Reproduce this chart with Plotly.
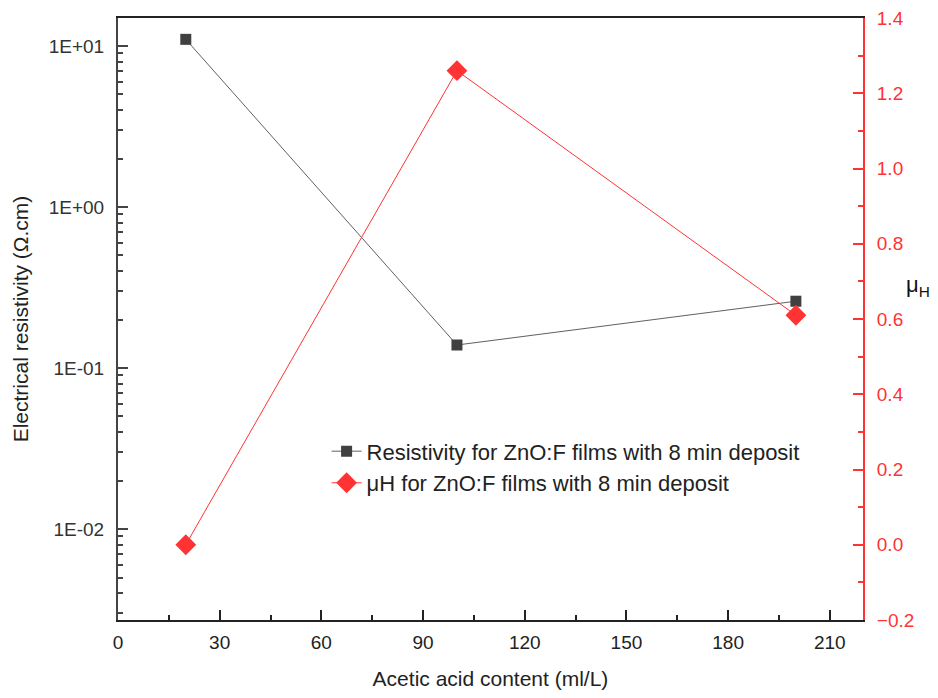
import plotly.graph_objects as go

x_content = [20, 100, 200]
resistivity = [11.0, 0.139, 0.26]
mobility = [0.0, 1.26, 0.61]

x_ticks = [0, 30, 60, 90, 120, 150, 180, 210]
left_ticks = [0.01, 0.1, 1, 10]
left_ticklabels = ["1E-02", "1E-01", "1E+00", "1E+01"]
right_ticks = [-0.2, 0.0, 0.2, 0.4, 0.6, 0.8, 1.0, 1.2, 1.4]

minor_left = [m * 10 ** e for e in range(-3, 2) for m in range(2, 10)]
minor_left = [v for v in minor_left if 0.0027 < v < 15]

FONT = "Liberation Sans, Arial, sans-serif"
RED = "#ff3333"
GRAY = "#404040"

fig = go.Figure()
fig.add_trace(go.Scatter(
    x=x_content, y=resistivity, mode="lines+markers",
    name="Resistivity for ZnO:F films with 8 min deposit",
    line=dict(color="#606060", width=1),
    marker=dict(symbol="square", size=11, color=GRAY),
    yaxis="y",
))
fig.add_trace(go.Scatter(
    x=x_content, y=mobility, mode="lines+markers",
    name="μH for ZnO:F films with 8 min deposit",
    line=dict(color=RED, width=1),
    marker=dict(symbol="diamond", size=16, color=RED),
    yaxis="y2",
))

fig.update_layout(
    width=930, height=690,
    margin=dict(l=110, r=75, t=10, b=78, autoexpand=False),
    paper_bgcolor="white", plot_bgcolor="white",
    font=dict(family=FONT, size=19, color="#222"),
    showlegend=True,
    legend=dict(x=0.28, y=0.315, xanchor="left", yanchor="top",
                font=dict(size=22, color="#222"), bgcolor="rgba(0,0,0,0)",
                tracegroupgap=0),
    xaxis=dict(
        range=[0, 219.8], tickvals=x_ticks, ticks="inside", ticklen=10,
        tickwidth=1.5, tickcolor="#222", showline=True, linecolor="#222",
        linewidth=2, mirror=True, showgrid=False, zeroline=False, automargin=False,
        minor=dict(ticks="inside", dtick=15, tick0=15, ticklen=5, tickcolor="#222", tickwidth=1.5),
        title=dict(text="Acetic acid content (ml/L)", font=dict(size=21), standoff=20),
        tickfont=dict(size=19), ticklabelstandoff=4, ticklabeloverflow="allow",
    ),
    yaxis=dict(
        type="log", range=[-2.565, 1.174], tickvals=left_ticks, ticktext=left_ticklabels,
        ticks="inside", ticklen=10, tickwidth=1.5, tickcolor="#444", automargin=False,
        showline=True, linecolor="#444", linewidth=2, showgrid=False, zeroline=False,
        minor=dict(tickvals=minor_left, ticks="inside", ticklen=5, tickcolor="#444", tickwidth=1.5),
        title=dict(text="Electrical resistivity (Ω.cm)", font=dict(size=21), standoff=14),
        tickfont=dict(size=19, color="#333"), ticklabelstandoff=8, ticklabeloverflow="allow",
    ),
    yaxis2=dict(
        overlaying="y", side="right", range=[-0.2, 1.4], tickvals=right_ticks,
        tickformat=".1f", ticks="inside", ticklen=10, tickwidth=1.5, tickcolor=RED,
        showline=True, linecolor=RED, linewidth=2, showgrid=False, zeroline=False,
        automargin=False, ticklabeloverflow="allow",
        minor=dict(dtick=0.1, tick0=-0.2, ticks="inside", ticklen=5, tickcolor=RED, tickwidth=1.5),
        tickfont=dict(size=19, color=RED), ticklabelstandoff=8,
    ),
    annotations=[dict(
        text="μ<sub>H</sub>", xref="paper", yref="paper", x=1.055, y=0.555,
        xanchor="left", yanchor="middle", showarrow=False,
        font=dict(size=22, color="#111"),
    )],
)

fig.write_html("out.html")
